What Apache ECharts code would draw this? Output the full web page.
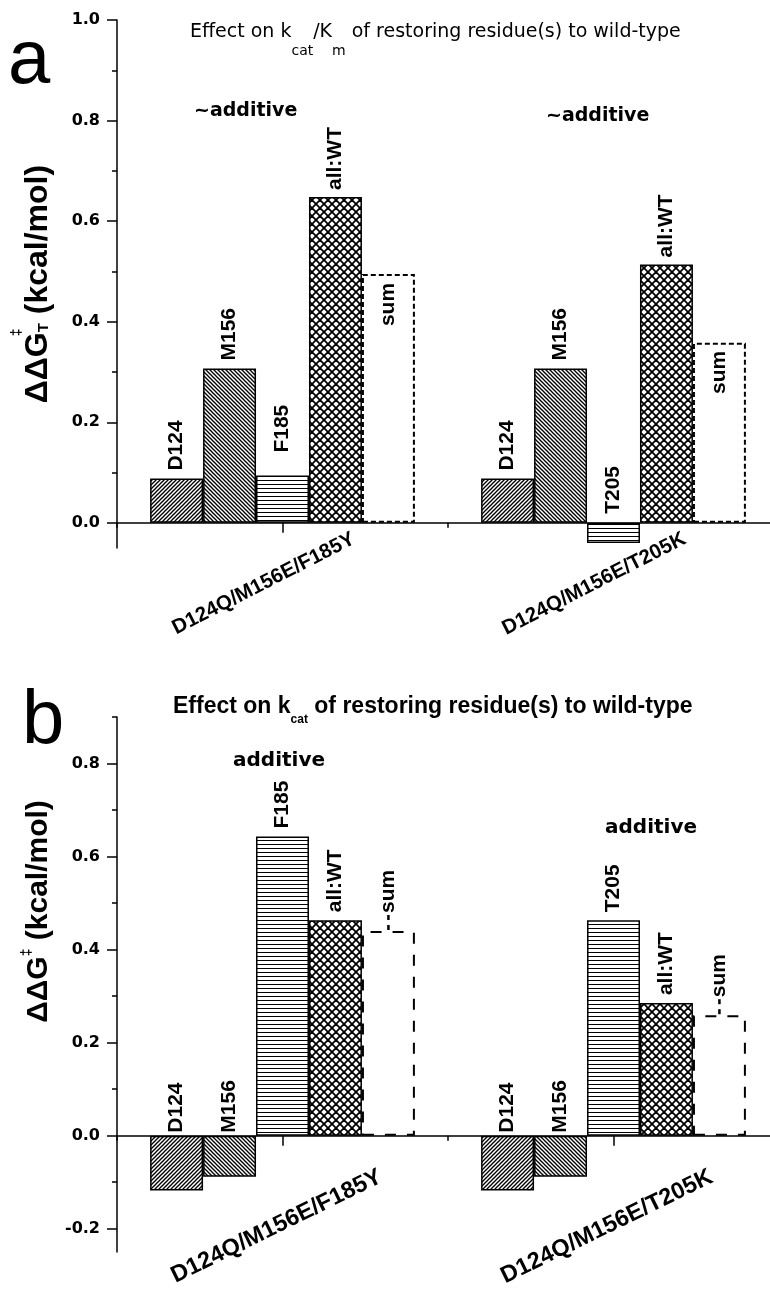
<!DOCTYPE html>
<html><head><meta charset="utf-8">
<script src="https://cdn.jsdelivr.net/npm/echarts@6/dist/echarts.min.js"></script>
<style>html,body{margin:0;padding:0;background:#fff}#c{width:770px;height:1294px}</style>
</head><body><div id="c"></div>
<script>
// ---------- data ----------
const categories = ['D124Q/M156E/F185Y', 'D124Q/M156E/T205K'];
const seriesNames = ['D124', 'M156', 'F185/T205', 'all:WT', 'sum'];
const thirdLabels = ['F185', 'T205'];

// panel a : effect on kcat/Km
const aD124 = [0.088, 0.088];
const aM156 = [0.307, 0.307];
const aThird = [0.094, -0.040];
const aAllWT = [0.648, 0.514];
const aSum = [0.495, 0.358];

// panel b : effect on kcat
const bD124 = [-0.118, -0.118];
const bM156 = [-0.088, -0.088];
const bThird = [0.643, 0.463];
const bAllWT = [0.463, 0.285];
const bSum = [0.440, 0.259];

const aYTicks = [0, 0.2, 0.4, 0.6, 0.8, 1.0];
const aYMinor = [0.1, 0.3, 0.5, 0.7, 0.9];
const bYTicks = [-0.2, 0, 0.2, 0.4, 0.6, 0.8];
const bYMinor = [-0.1, 0.1, 0.3, 0.5, 0.7, 0.9];

// ---------- patterns ----------
function pattern(kind, size, lw) {
  const c = document.createElement('canvas');
  c.width = size; c.height = size;
  const g = c.getContext('2d');
  g.fillStyle = '#fff'; g.fillRect(0, 0, size, size);
  g.strokeStyle = '#000'; g.lineWidth = lw;
  const seg = (x1, y1, x2, y2) => { g.beginPath(); g.moveTo(x1, y1); g.lineTo(x2, y2); g.stroke(); };
  if (kind === 'fwd' || kind === 'cross') {
    seg(-2, size + 2, size + 2, -2); seg(-2, 2, 2, -2); seg(size - 2, size + 2, size + 2, size - 2);
  }
  if (kind === 'back' || kind === 'cross') {
    seg(-2, -2, size + 2, size + 2); seg(size - 2, -2, size + 2, 2); seg(-2, size - 2, 2, size + 2);
  }
  if (kind === 'horiz') { g.fillStyle = '#000'; g.fillRect(0, 0, size, lw); }
  return { image: c, repeat: 'repeat' };
}
const fills = [pattern('fwd', 4, 1.3), pattern('back', 4, 1.3), pattern('horiz', 4, 1), pattern('cross', 8, 1.8)];

const BLACK = '#000';
const LBL = { fontFamily: 'Liberation Sans', fontWeight: 'bold', fontSize: 21, color: BLACK };
const labelBase = Object.assign({ show: true, rotate: 90, verticalAlign: 'middle' }, LBL);

function labelText(si, dashLead) {
  if (si === 2) return p => thirdLabels[p.dataIndex];
  if (si === 4 && dashLead) return () => '{m|}{g|}{m|}{s|' + seriesNames[4] + '}';
  return () => seriesNames[si];
}

function buildPanel(vals, axisIdx, dists, sumInside, sumDash) {
  return vals.map((arr, si) => {
    const isSum = si === 4;
    const lab = Object.assign({}, labelBase, { formatter: labelText(si, !sumInside) });
    if (isSum && sumInside) { lab.position = 'insideTop'; lab.align = 'right'; }
    else { lab.position = 'top'; lab.align = 'left'; }
    if (isSum && !sumInside) {
      lab.rich = {
        m: { width: 5, height: 2.5, backgroundColor: BLACK, verticalAlign: 'middle' },
        g: { width: 5, height: 2.5, verticalAlign: 'middle' },
        s: Object.assign({}, LBL, { padding: [0, 0, 0, 2] })
      };
    }
    return {
      type: 'bar', name: seriesNames[si], xAxisIndex: axisIdx, yAxisIndex: axisIdx,
      barGap: '0%', barCategoryGap: '20%',
      data: arr.map((v, i) => ({ value: v, label: { distance: dists[si][i] } })),
      itemStyle: isSum
        ? { color: '#fff', borderColor: BLACK, borderWidth: 2, borderType: sumDash }
        : { color: fills[si], borderColor: BLACK, borderWidth: 1.5 },
      label: lab,
      emphasis: { disabled: true },
      silent: true
    };
  });
}

const seriesA = buildPanel([aD124, aM156, aThird, aAllWT, aSum], 0,
  [[8, 8], [8, 8], [23, 9], [7, 7], [9, 8]], true, [5, 3]);
const seriesB = buildPanel([bD124, bM156, bThird, bAllWT, bSum], 2,
  [[3, 3], [3, 3], [8, 8], [8, 8], [1, 1]], false, [11, 11]);

const axisLineStyle = { color: BLACK, width: 1.5 };

function xAxes(grid, idx) {
  return [
    { gridIndex: grid, type: 'category', data: categories, position: 'bottom',
      axisLine: { show: true, onZero: true, onZeroAxisIndex: idx, lineStyle: axisLineStyle },
      axisTick: { show: true, alignWithLabel: true, length: 10, lineStyle: axisLineStyle },
      axisLabel: { show: false },
      splitLine: { show: false } },
    { gridIndex: grid, type: 'category', data: categories, position: 'bottom',
      axisLine: { show: false, onZero: true, onZeroAxisIndex: idx + 1, lineStyle: axisLineStyle },
      axisTick: { show: true, alignWithLabel: false, length: 5, lineStyle: axisLineStyle },
      axisLabel: { show: false }, splitLine: { show: false } }
  ];
}

function yAxes(grid, min, max, ticks, minor, name, nameGap, rich, namePad) {
  return [
    { gridIndex: grid, type: 'value', min: min, max: max, position: 'left',
      axisLine: { show: true, onZero: false, lineStyle: axisLineStyle },
      axisTick: { show: true, customValues: ticks, length: 10, lineStyle: axisLineStyle },
      axisLabel: { show: true, customValues: ticks, formatter: v => Number(v).toFixed(1), margin: 17,
        fontFamily: 'DejaVu Sans', fontWeight: 'bold', fontSize: 16, color: BLACK },
      splitLine: { show: false },
      name: name, nameLocation: 'middle', nameGap: nameGap,
      nameTextStyle: { rich: rich, padding: namePad } },
    { gridIndex: grid, type: 'value', min: min, max: max, position: 'left',
      axisLine: { show: false, onZero: false },
      axisTick: { show: true, customValues: minor, length: 5, lineStyle: axisLineStyle },
      axisLabel: { show: false }, splitLine: { show: false } }
  ];
}

const LB = { fontFamily: 'Liberation Sans', fontWeight: 'bold', color: BLACK, verticalAlign: 'top' };
const richA = {
  n: Object.assign({}, LB, { fontSize: 32, padding: [12, 0, 0, 0] }),
  sup: Object.assign({}, LB, { fontSize: 14, width: 0 }),
  sub: Object.assign({}, LB, { fontSize: 15, padding: [26, 0, 0, 0] })
};
const richB = {
  n: Object.assign({}, LB, { fontSize: 30, padding: [4, 0, 0, 0] }),
  sup: Object.assign({}, LB, { fontSize: 14 })
};

const titles = [
  { text: 'a', left: 8, top: 24, padding: 0,
    textStyle: { fontFamily: 'Liberation Sans', fontSize: 76, fontWeight: 'normal', lineHeight: 76, color: BLACK } },
  { text: 'b', left: 22, top: 684, padding: 0,
    textStyle: { fontFamily: 'Liberation Sans', fontSize: 76, fontWeight: 'normal', lineHeight: 76, color: BLACK } },
  { text: '{n|Effect on k}{s|cat}{n|/K}{s|m}{n| of restoring residue(s) to wild-type}', left: 190, top: 23, padding: 0,
    textStyle: { fontWeight: 'normal', rich: {
      n: { fontFamily: 'DejaVu Sans', fontWeight: 'normal', fontSize: 19, verticalAlign: 'top', color: BLACK },
      s: { fontFamily: 'DejaVu Sans', fontWeight: 'normal', fontSize: 14, padding: [21, 0, 0, 0], verticalAlign: 'top', color: BLACK } } } },
  { text: '{n|Effect on k}{s|cat}{n| of restoring residue(s) to wild-type}', left: 173, top: 695, padding: 0,
    textStyle: { rich: {
      n: { fontFamily: 'Liberation Sans', fontWeight: 'bold', fontSize: 23, verticalAlign: 'top', color: BLACK },
      s: { fontFamily: 'Liberation Sans', fontWeight: 'bold', fontSize: 12, padding: [19, 0, 0, 0], verticalAlign: 'top', color: BLACK } } } },
  { text: '~additive', left: 194, top: 102, padding: 0,
    textStyle: { fontFamily: 'DejaVu Sans', fontWeight: 'bold', fontSize: 19, lineHeight: 19, color: BLACK } },
  { text: '~additive', left: 546, top: 107, padding: 0,
    textStyle: { fontFamily: 'DejaVu Sans', fontWeight: 'bold', fontSize: 19, lineHeight: 19, color: BLACK } },
  { text: 'additive', left: 233, top: 751, padding: 0,
    textStyle: { fontFamily: 'DejaVu Sans', fontWeight: 'bold', fontSize: 20, lineHeight: 20, color: BLACK } },
  { text: 'additive', left: 605, top: 818, padding: 0,
    textStyle: { fontFamily: 'DejaVu Sans', fontWeight: 'bold', fontSize: 20, lineHeight: 20, color: BLACK } }
];

const option = {
  animation: false,
  backgroundColor: '#fff',
  title: titles,
  grid: [
    { left: 117, right: -9, top: 20, height: 528, containLabel: false, outerBoundsMode: 'none' },
    { left: 117, right: -9, top: 717, height: 535, containLabel: false, outerBoundsMode: 'none' }
  ],
  xAxis: [].concat(xAxes(0, 0), xAxes(1, 2)),
  yAxis: [].concat(
    yAxes(0, -0.05, 1.0, aYTicks, aYMinor, '{n|ΔΔG}{sup|‡}{sub|T}{n| (kcal/mol)}', 63, richA, [0, 0, 0, 0]),
    yAxes(1, -0.25, 0.9, bYTicks, bYMinor, '{n|ΔΔG}{sup|‡}{n| (kcal/mol)}', 56, richB, [0, 0, 0, 146])
  ),
  series: [].concat(seriesA, seriesB)
};

const chart = echarts.init(document.getElementById('c'), null, { renderer: 'canvas' });
chart.setOption(option);

// rotated category labels, anchored through the axes' own scales
function catLabels(xIdx, yIdx, dx, dy, rot, fs) {
  const y0 = chart.convertToPixel({ yAxisIndex: yIdx }, 0);
  return categories.map(c => {
    const x = chart.convertToPixel({ xAxisIndex: xIdx }, c);
    return { type: 'text', x: x + dx, y: y0 + dy, rotation: rot * Math.PI / 180, silent: true,
      style: { text: c, font: 'bold ' + fs + 'px "Liberation Sans"', fill: BLACK,
        align: 'right', verticalAlign: 'middle', textAlign: 'right', textVerticalAlign: 'middle' } };
  });
}
chart.setOption({ graphic: [].concat(catLabels(0, 0, 71, 15, 27, 20.5), catLabels(2, 2, 98, 40, 26, 23.5)) });
</script>
</body></html>
